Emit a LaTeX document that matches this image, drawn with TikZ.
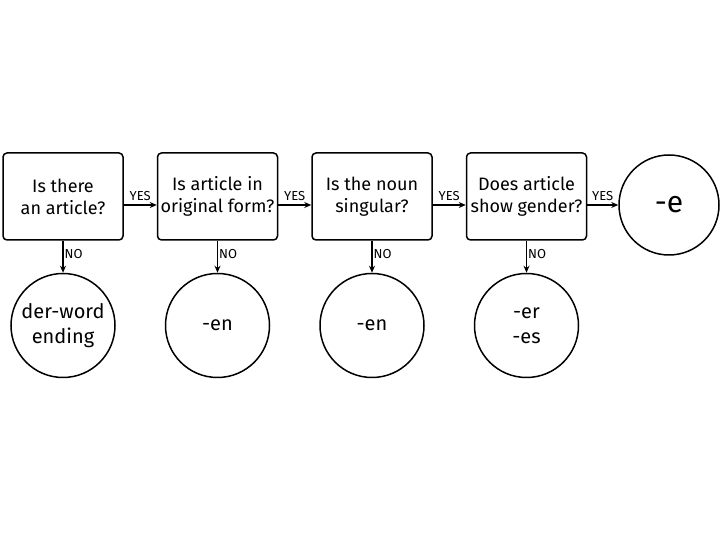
\documentclass[tikz,border=0pt]{standalone}
\usepackage{fontspec}
\setmainfont{Fira Sans}
\usetikzlibrary{arrows.meta,positioning}

\begin{document}
\begin{tikzpicture}[
  x=1pt, y=1pt,
  node distance=33pt,
  question/.style={rectangle, draw, rounded corners=4pt, line width=1.5pt,
    minimum width=120pt, minimum height=87pt, inner sep=1pt, align=center,
    font=\fontsize{18}{22}\selectfont},
  ending/.style={circle, draw, line width=1.5pt, minimum size=104pt,
    inner sep=0pt, align=center, font=\fontsize{20}{25}\selectfont},
  answer/.style={font=\fontsize{13}{15}\selectfont, inner sep=1pt},
  arrow/.style={-{Stealth[length=7pt,width=6pt]}, line width=1.3pt}
]
  \useasboundingbox (0,0) rectangle (720,540);

  \node[question] (q1) at (63,343.5) {Is there\\an article?};
  \node[question] (q2) [right=of q1] {Is article in\\original form?};
  \node[question] (q3) [right=of q2] {Is the noun\\singular?};
  \node[question] (q4) [right=of q3] {Does article\\show gender?};
  \node[ending, minimum size=100pt, font=\fontsize{30}{34}\selectfont] (e)
    [right=31pt of q4.east, yshift=-8.5pt] {-e};

  \node[ending] (a1) [below=32pt of q1] {der-word\\ending};
  \node[ending] (a2) [below=32pt of q2] {-en};
  \node[ending] (a3) [below=32pt of q3] {-en};
  \node[ending] (a4) [below=32pt of q4] {-er\\-es};

  \foreach \from/\to in {q1/q2, q2/q3, q3/q4}
    \draw[arrow] ([yshift=-8.5pt]\from.east) -- node[answer, above=3pt] {YES} ([yshift=-8.5pt]\to.west);
  \draw[arrow] (q4.east |- e.west) -- node[answer, above=3pt] {YES} (e.west);

  \foreach \q/\a in {q1/a1, q2/a2, q3/a3, q4/a4}
    \draw[arrow] (\q.south) -- node[answer, right, pos=0.4] {NO} (\a.north);
\end{tikzpicture}
\end{document}
